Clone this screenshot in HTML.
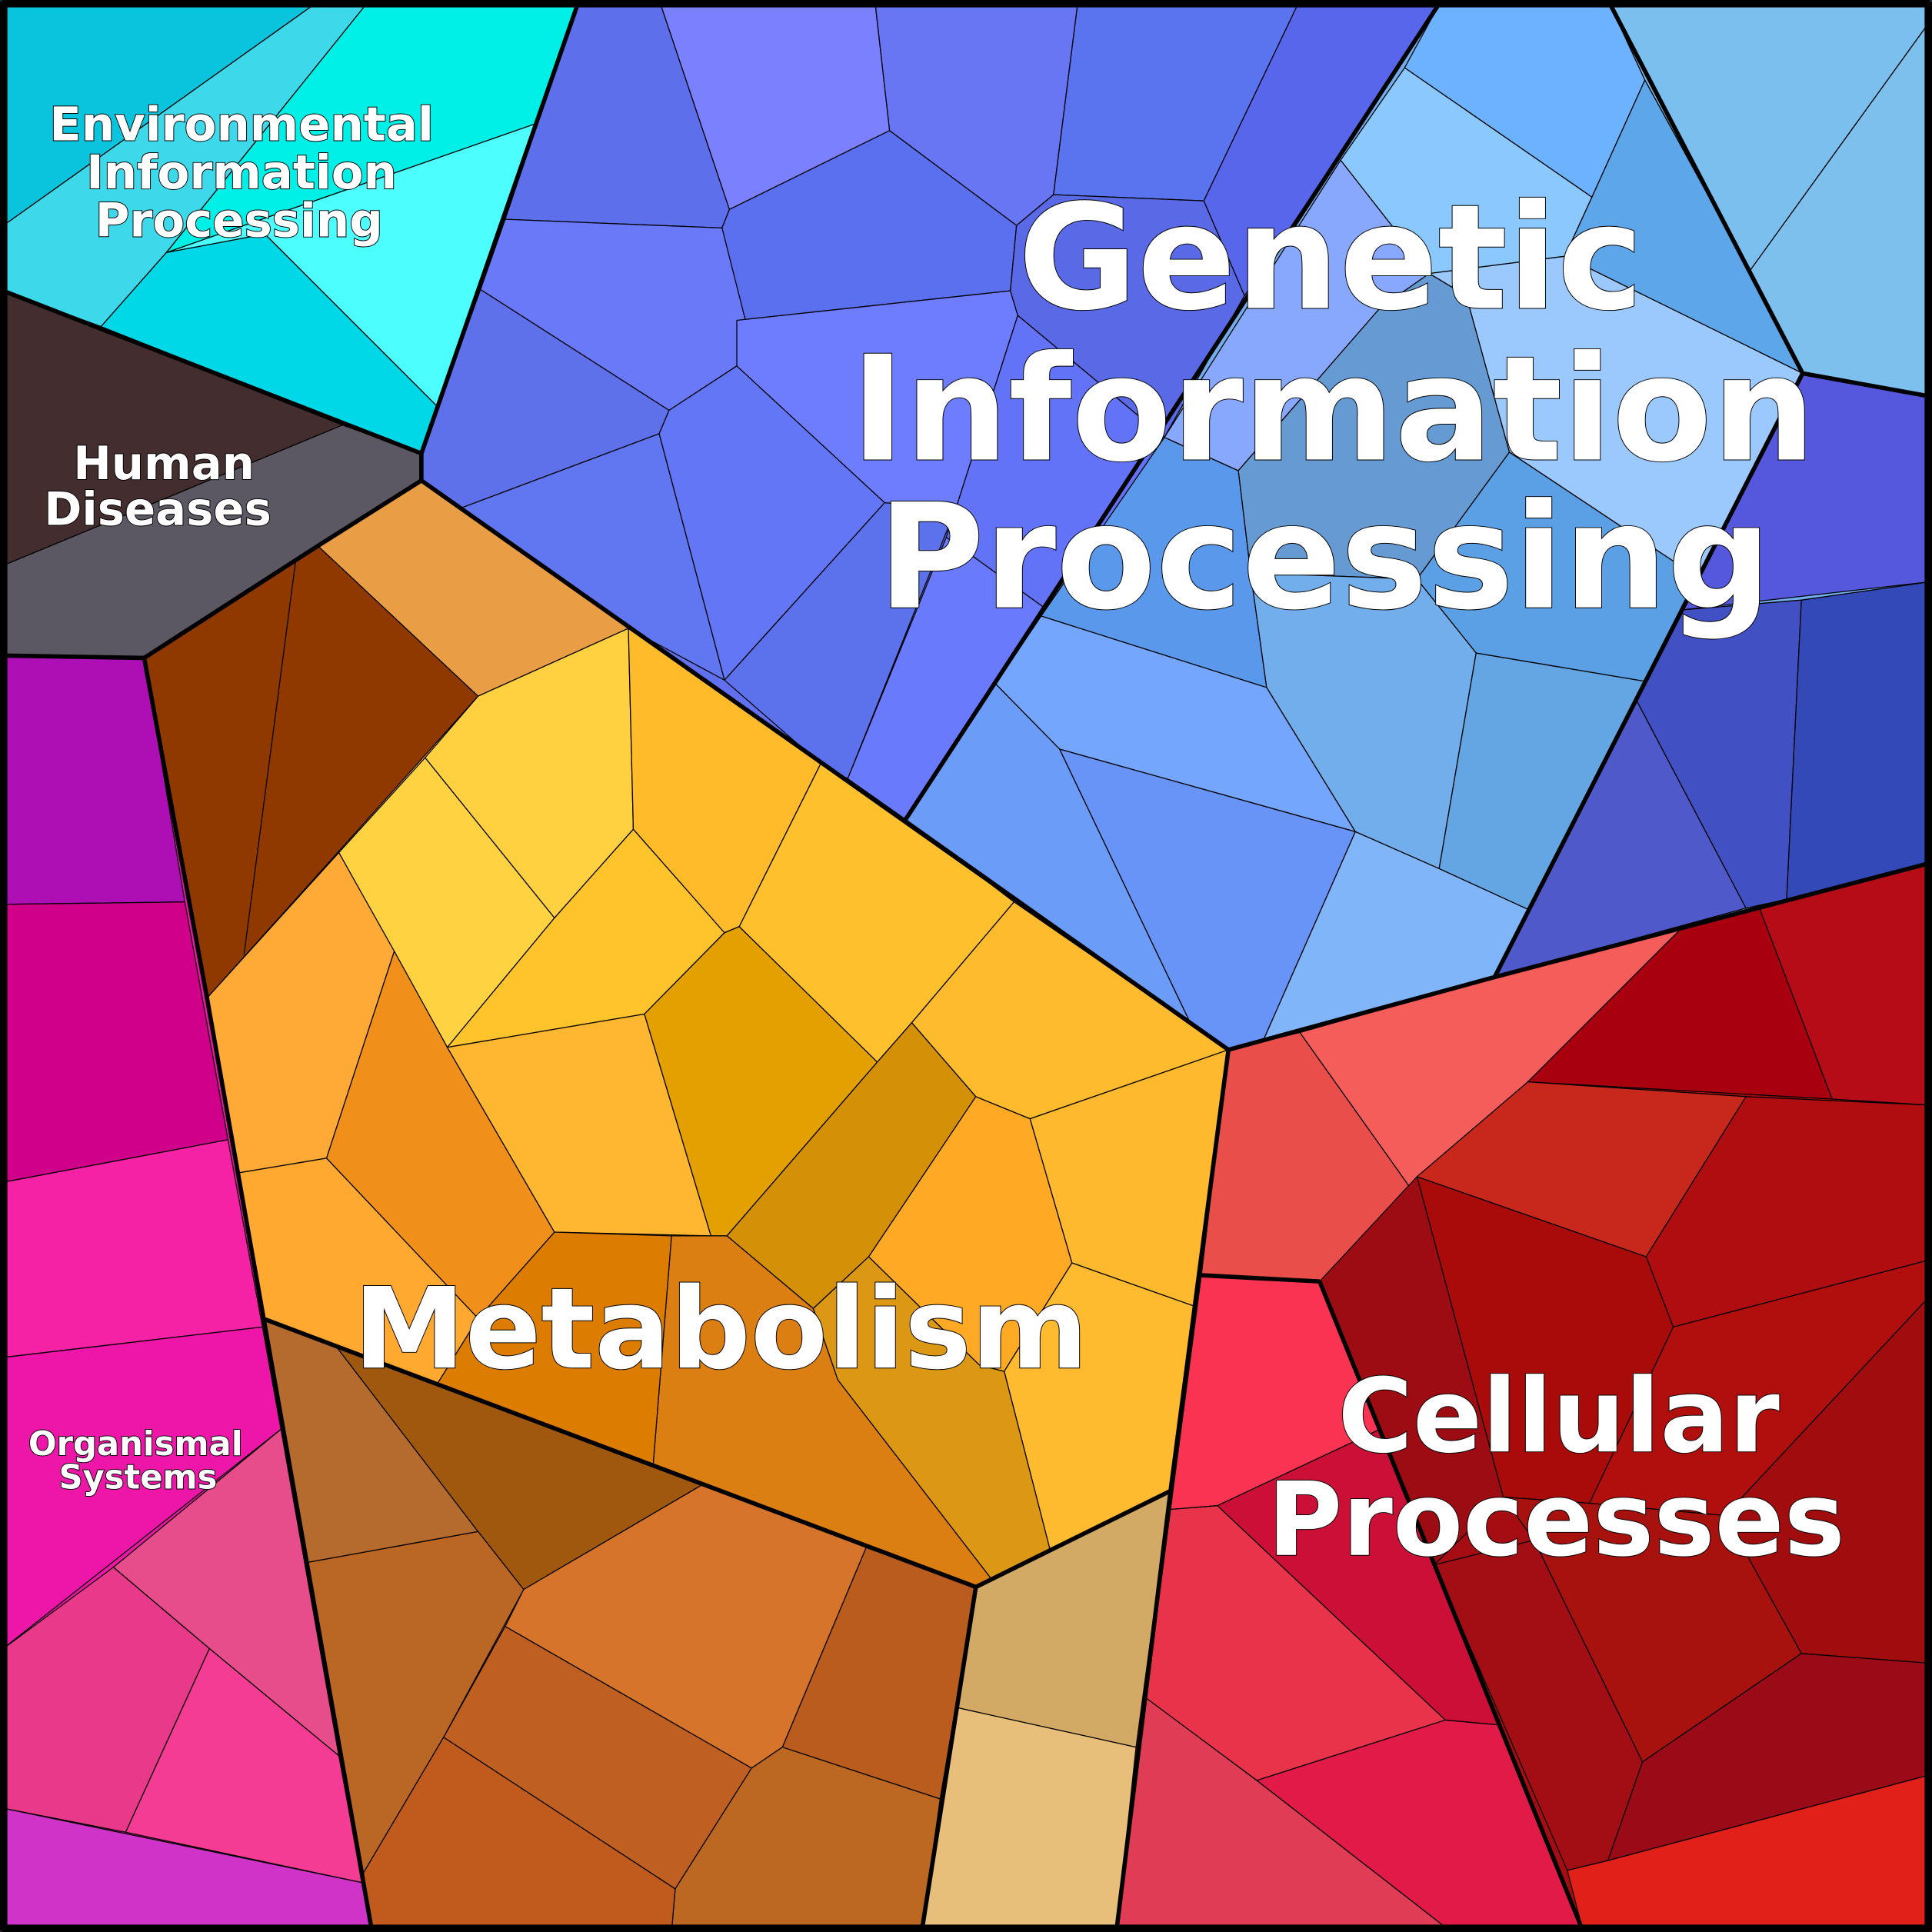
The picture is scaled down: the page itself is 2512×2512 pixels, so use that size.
<!DOCTYPE html>
<html><head><meta charset="utf-8"><style>html,body{margin:0;padding:0;background:#000}svg{display:block}</style></head>
<body>
<svg xmlns="http://www.w3.org/2000/svg" width="2512" height="2512" viewBox="0 0 1568 1568">
<!-- base fills -->
<g stroke="none">
<polygon fill="#00d8e8" points="0,0 470,0 342,368 0,235"/>
<polygon fill="#5b5763" points="0,235 342,368 342,390 258,443 117,534 0,532"/>
<polygon fill="#ee16a8" points="0,532 117,534 168,810 302,1568 0,1568"/>
<polygon fill="#ffb732" points="342,390 997,852 950,1210 792,1288 213,1070 168,810 117,534 258,443"/>
<polygon fill="#c05f22" points="213,1070 792,1288 748,1568 302,1568"/>
<polygon fill="#d2aa66" points="792,1288 950,1210 906,1568 748,1568"/>
<polygon fill="#6070ee" points="470,0 1170,0 735,665 510,510 342,390 342,368"/>
<polygon fill="#72aeec" points="1170,0 1568,0 1568,700 1213,793 997,852 735,665"/>
<polygon fill="#a50d12" points="997,852 1213,793 1568,700 1568,1568 906,1568 922,1418 950,1210"/>
</g>
<g stroke="#000" stroke-width="0.8" stroke-linejoin="round">
<!-- Environmental -->
<polygon fill="#09c4dc" points="0,0 260,0 0,185"/>
<polygon fill="#3dd8ea" points="260,0 300,0 135,205 82,265 0,235 0,185"/>
<polygon fill="#00efe6" points="300,0 470,0 436,100 135,205"/>
<polygon fill="#4dfeff" points="135,205 436,100 355,330 215,190"/>
<polygon fill="#00d8e8" points="82,265 135,205 215,190 355,330 342,368"/>
<!-- Human Diseases -->
<polygon fill="#432d2f" points="0,235 278,345 0,460"/>
<polygon fill="#5b5763" points="278,345 342,368 342,390 258,443 117,534 0,532 0,460"/>
<!-- Organismal -->
<polygon fill="#ad0fb5" points="0,532 117,534 150,732 0,734"/>
<polygon fill="#d0008a" points="0,734 150,732 185,925 0,960"/>
<polygon fill="#f522a5" points="0,960 185,925 213,1077 0,1102"/>
<polygon fill="#ee16a8" points="0,1102 213,1077 228,1160 0,1340"/>
<polygon fill="#e84d8b" points="228,1160 275,1425 170,1338 92,1272"/>
<polygon fill="#e9398a" points="0,1340 92,1272 170,1338 102,1487 0,1467"/>
<polygon fill="#f43c95" points="170,1338 275,1425 294,1528 102,1487"/>
<polygon fill="#d033c8" points="0,1467 294,1528 302,1568 0,1568"/>
<!-- Metabolism -->
<polygon fill="#8f3900" points="117,534 258,443 388,565 168,810"/>
<line x1="240" y1="455" x2="198" y2="775"/>
<polygon fill="#e99e45" points="258,443 342,390 510,510 388,565"/>
<polygon fill="#ffd040" points="388,565 510,510 514,673 450,745 345,615"/>
<polygon fill="#ffd241" points="345,615 450,745 363,850 275,692"/>
<polygon fill="#ffa936" points="168,810 275,692 320,772 265,940 193,952"/>
<polygon fill="#f0901a" points="320,772 363,850 450,1000 388,1070 265,940"/>
<polygon fill="#ffa931" points="193,952 265,940 388,1070 355,1123 213,1070"/>
<polygon fill="#ffc42c" points="450,745 514,673 588,757 523,823 363,850"/>
<polygon fill="#ffb732" points="363,850 523,823 577,1003 450,1000"/>
<polygon fill="#ffbb2a" points="510,510 666,620 600,752 588,757 514,673"/>
<polygon fill="#e4a000" points="523,823 588,757 600,752 712,862 590,1003 577,1003"/>
<polygon fill="#ffc02d" points="666,620 735,665 823,732 740,830 712,862 600,752"/>
<polygon fill="#d49006" points="590,1003 712,862 740,830 792,890 705,1020 660,1062"/>
<polygon fill="#ffa924" points="792,890 836,908 870,1025 815,1113 795,1108 705,1020"/>
<polygon fill="#ffbb2e" points="823,732 997,852 836,908 792,890 740,830"/>
<polygon fill="#ffb92e" points="836,908 997,852 969,1060 870,1025"/>
<polygon fill="#ffbb30" points="870,1025 969,1060 950,1210 852,1257 815,1113"/>
<polygon fill="#dc9814" points="660,1062 705,1020 795,1108 815,1113 852,1257 805,1282 680,1120"/>
<polygon fill="#dc7f13" points="590,1003 660,1062 680,1120 805,1282 792,1288 530,1190 545,1003"/>
<polygon fill="#dc7c00" points="450,1000 545,1003 530,1190 355,1123 388,1070"/>
<polygon fill="#b56b2e" points="213,1070 273,1093 388,1243 250,1268"/>
<polygon fill="#a0580e" points="273,1093 570,1205 425,1290 388,1243"/>
<polygon fill="#ba6625" points="250,1268 388,1243 425,1290 360,1410 295,1520"/>
<polygon fill="#d5742a" points="425,1290 570,1205 703,1256 635,1418 610,1435 410,1320"/>
<polygon fill="#bb5c1f" points="703,1256 792,1288 763,1460 635,1418"/>
<polygon fill="#c05f22" points="410,1320 610,1435 548,1533 360,1410"/>
<polygon fill="#bd6822" points="610,1435 635,1418 763,1460 748,1568 545,1568 548,1533"/>
<polygon fill="#c15b1d" points="295,1520 360,1410 548,1533 545,1568 302,1568"/>
<polygon fill="#d2aa66" points="792,1288 950,1210 922,1418 777,1386"/>
<polygon fill="#e7be7a" points="777,1386 922,1418 906,1568 748,1568"/>
<!-- Genetic left (purple) -->
<polygon fill="#5d6fea" points="470,0 535,0 592,170 586,185 410,178"/>
<polygon fill="#7b80ff" points="535,0 710,0 722,106 592,170"/>
<polygon fill="#6876f3" points="710,0 875,0 855,158 825,183 722,106"/>
<polygon fill="#5a73ee" points="875,0 1055,0 977,163 855,158"/>
<polygon fill="#5866ec" points="1055,0 1170,0 1088,124 1010,240 977,163"/>
<polygon fill="#5a70ee" points="586,185 592,170 722,106 825,183 820,236 598,260"/>
<polygon fill="#6a79f8" points="410,178 586,185 605,260 598,297 543,333 390,235"/>
<polygon fill="#5e70ea" points="390,235 543,333 535,352 375,412 342,390 342,368"/>
<polygon fill="#6077f1" points="375,412 535,352 588,552 510,510"/>
<polygon fill="#6376f6" points="535,352 543,333 598,297 718,408 588,552"/>
<polygon fill="#5c71ec" points="588,552 718,408 776,412 688,632 666,620"/>
<polygon fill="#6e7dfd" points="598,297 598,260 820,236 826,256 776,412 718,408"/>
<polygon fill="#5a69e6" points="826,256 820,236 825,183 855,158 977,163 1010,240 945,355"/>
<polygon fill="#6373f8" points="776,412 826,256 945,355 850,495 768,436"/>
<polygon fill="#6a7afc" points="688,632 768,436 850,495 735,665"/>
<!-- Genetic right (blue) -->
<polygon fill="#6cb2fe" points="1170,0 1305,0 1335,65 1292,160 1140,55"/>
<polygon fill="#7bbfee" points="1305,0 1568,0 1568,15 1420,220 1335,65"/>
<polygon fill="#7dc0ee" points="1568,15 1568,322 1463,303 1420,220"/>
<polygon fill="#8ac8fd" points="1140,55 1292,160 1270,208 1160,222 1088,130"/>
<polygon fill="#5ca6e9" points="1335,65 1420,220 1463,303 1270,208 1292,160"/>
<polygon fill="#88a8fd" points="1088,130 1160,222 1120,250 1005,382 945,355"/>
<polygon fill="#9bc9fd" points="1160,222 1270,208 1463,303 1380,470 1225,367 1190,240"/>
<polygon fill="#659bd2" points="1005,382 1120,250 1160,222 1190,240 1225,367 1150,470 1015,465"/>
<polygon fill="#5a98ec" points="945,355 1005,382 1015,465 1028,558 845,500"/>
<polygon fill="#5b9fe4" points="1225,367 1380,470 1335,553 1198,530 1150,470"/>
<polygon fill="#72aeec" points="1015,465 1150,470 1198,530 1168,705 1100,675 1028,558"/>
<polygon fill="#64a6e4" points="1198,530 1335,553 1240,738 1168,705"/>
<polygon fill="#75a6fd" points="845,500 1028,558 1100,675 860,608 808,555"/>
<polygon fill="#6b9cf8" points="808,555 860,608 965,828 735,665"/>
<polygon fill="#6894f7" points="860,608 1100,675 1025,845 997,852 965,828"/>
<polygon fill="#80b5fa" points="1100,675 1168,705 1240,738 1213,793 1025,845"/>
<polygon fill="#5059c9" points="1328,568 1417,737 1213,793 1240,738"/>
<polygon fill="#4150c3" points="1365,495 1462,487 1450,730 1417,737 1328,568"/>
<polygon fill="#3449b8" points="1462,487 1568,472 1568,700 1450,730"/>
<polygon fill="#5558dc" points="1463,303 1568,322 1568,472 1365,495"/>
<!-- Cellular -->
<polygon fill="#ea4e4b" points="1055,838 997,852 975,1035 1071,1040 1146,966"/>
<polygon fill="#f55d5b" points="1055,838 1213,793 1363,755 1240,878 1146,966"/>
<polygon fill="#a8000f" points="1363,755 1428,737 1487,892 1240,878"/>
<polygon fill="#b60c17" points="1428,737 1568,700 1568,897 1487,892"/>
<polygon fill="#c8271b" points="1240,878 1417,890 1336,1020 1150,955"/>
<polygon fill="#b00d10" points="1417,890 1568,897 1568,1022 1358,1077 1336,1020"/>
<polygon fill="#a90a0a" points="1150,955 1336,1020 1358,1077 1290,1220 1220,1215"/>
<polygon fill="#9d0b13" points="1071,1040 1150,955 1220,1215 1164,1270 1120,1160"/>
<polygon fill="#b00f0e" points="1358,1077 1568,1022 1568,1050 1400,1230 1290,1220"/>
<polygon fill="#a10d0e" points="1568,1050 1568,1350 1462,1342 1400,1230"/>
<polygon fill="#a7110e" points="1220,1215 1290,1220 1400,1230 1462,1342 1333,1430 1245,1250"/>
<polygon fill="#fb3353" points="975,1035 1071,1040 1120,1160 988,1222 950,1225"/>
<polygon fill="#cb0f37" points="988,1222 1120,1160 1217,1400 1173,1396"/>
<polygon fill="#e8334a" points="950,1225 988,1222 1173,1396 1020,1445 930,1378"/>
<polygon fill="#e11a47" points="1020,1445 1173,1396 1217,1400 1285,1568 1178,1568"/>
<polygon fill="#e03c56" points="930,1378 1020,1445 1178,1568 906,1568"/>
<polygon fill="#a30d14" points="1164,1270 1245,1250 1333,1430 1305,1510 1272,1518"/>
<polygon fill="#9a0b17" points="1462,1342 1568,1350 1568,1440 1305,1510 1333,1430"/>
<polygon fill="#e1201a" points="1568,1440 1568,1568 1285,1568 1272,1518 1305,1510"/>
</g>
<!-- thick boundaries -->
<g fill="none" stroke="#000" stroke-width="3.5" stroke-linejoin="round">
<polyline points="470,0 342,368 0,235"/>
<polyline points="342,368 342,390 258,443 117,534 0,532"/>
<polyline points="117,534 168,810 302,1568"/>
<polyline points="342,390 997,852 950,1210 906,1568"/>
<polyline points="213,1070 792,1288 748,1568"/>
<polyline points="792,1288 950,1210"/>
<polyline points="1170,0 735,665"/>
<polyline points="997,852 1213,793 1568,700"/>
<polyline points="1463,303 1213,793"/>
<polyline points="1305,0 1463,303 1568,322"/>
<polyline points="1071,1040 1285,1568"/>
<polyline points="975,1035 1071,1040"/>
<rect x="3" y="3" width="1562" height="1562" stroke-width="6"/>
</g>
<g font-family="'DejaVu Sans','Liberation Sans',sans-serif" font-weight="bold" fill="#fff" stroke="#000" stroke-width="1.2" paint-order="stroke" text-anchor="middle">
<text font-size="118" x="1080" y="250">Genetic</text>
<text font-size="118" x="1082" y="373">Information</text>
<text font-size="118" x="1075" y="493">Processing</text>
<text font-size="91" x="585" y="1110">Metabolism</text>
<text font-size="83" x="1265" y="1178">Cellular</text>
<text font-size="83" x="1263" y="1262">Processes</text>
<text font-size="38" x="196" y="114">Environmental</text>
<text font-size="38" x="196" y="153">Information</text>
<text font-size="38" x="194" y="192">Processing</text>
<text font-size="37" x="133" y="389">Human</text>
<text font-size="37" x="128" y="426">Diseases</text>
<text font-size="27" x="110" y="1181">Organismal</text>
<text font-size="27" x="112" y="1208">Systems</text>
</g>
</svg>
</body></html>
